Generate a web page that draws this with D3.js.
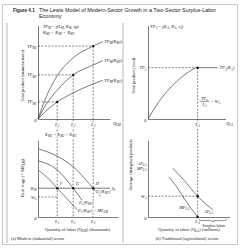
<!DOCTYPE html>
<html>
<head>
<meta charset="utf-8">
<script src="https://cdn.jsdelivr.net/npm/d3@7"></script>
<style>
  body { margin: 0; background: #fff; }
  svg { display: block; }
  text { font-family: "Liberation Serif", "DejaVu Serif", serif; fill: #222; }
</style>
</head>
<body>
<div id="chart"></div>
<script>
// ---- values ----
// (a) modern sector
const laborM = [24, 44, 69];                 // L1, L2, L3
const laborMLabels = ["L_{1}", "L_{2}", "L_{3}"];
const tpLevelsM = [19, 49, 81];              // TP_M1, TP_M2, TP_M3
const tpLevelLabels = ["TP_{M1}", "TP_{M2}", "TP_{M3}"];
const tpM1 = [[0, 0], [10, 9], [24, 19], [44, 29], [69, 39], [81, 43]];
const tpM2 = [[0, 0], [10, 16], [24, 32], [44, 49], [69, 60], [81, 65]];
const tpM3 = [[0, 0], [10, 24], [24, 48], [44, 68], [69, 81], [81, 86]];
const tpMLabels = ["TP_{M}(K_{M1})", "TP_{M}(K_{M2})", "TP_{M}(K_{M3})"];
const wageM = 36;                            // W_M
const wageA = 25;                            // W_A (as seen in modern panel)
const d1 = [[1, 58], [12, 49], [24, 36], [38, 21], [49, 9]];
const d2 = [[1, 70], [24, 59], [44, 36], [55, 21]];
const d3c = [[1, 85], [20, 78], [45, 62], [69, 36], [78, 26]];
const supplyEnd = 90;
const pointLabels = ["F", "G", "H"];

// (b) traditional sector
const laborA = 62;                           // L_A
const tpLevelA = 57;                         // TP_A
const tpA = [[0, 0], [15, 21], [34, 40], [52, 53], [62, 57], [87, 57]];
const wageAB = 26;                           // W_A
const apA = [[31, 61], [45, 46], [62, 26], [81, 9]];
const mpA = [[26, 50], [35, 39], [44, 25], [53, 12], [62, 0]];
const apLabelAt = 67, mpLabelAt = 61;
const surplusEnd = 98;

const width = 240, height = 248;
const svg = d3.select("#chart").append("svg")
  .attr("width", width).attr("height", height);

// frame
svg.append("rect").attr("x", 2.5).attr("y", 4.5).attr("width", 235).attr("height", 240)
  .attr("fill", "none").attr("stroke", "#c8c8c8").attr("stroke-width", 1);
svg.append("line").attr("x1", 7).attr("x2", 7).attr("y1", 23).attr("y2", 243)
  .attr("stroke", "#cfcfcf").attr("stroke-width", 1.5);
svg.append("line").attr("x1", 123).attr("x2", 123).attr("y1", 23).attr("y2", 243)
  .attr("stroke", "#cfcfcf").attr("stroke-width", 1.5);

// text with _{sub} parts
function rich(g, x, y, str, o = {}) {
  const fs = o.size || 4.6;
  const t = g.append("text").attr("x", x).attr("y", y)
    .attr("font-size", fs).attr("text-anchor", o.anchor || "start");
  if (o.italic) t.attr("font-style", "italic");
  if (o.weight) t.attr("font-weight", o.weight);
  if (o.family) t.style("font-family", o.family);
  if (o.rotate) t.attr("transform", `rotate(${o.rotate},${x},${y})`);
  if (o.halo) t.attr("stroke", "#fff").attr("stroke-width", 1.6).attr("paint-order", "stroke");
  let shifted = 0;
  str.split(/(_\{[^}]*\})/).forEach(p => {
    if (!p) return;
    const m = p.match(/^_\{(.*)\}$/);
    const s = t.append("tspan");
    if (m) {
      s.attr("font-size", fs * 0.7).attr("dy", fs * 0.3 - shifted).text(m[1]);
      shifted = fs * 0.3;
    } else {
      if (shifted) s.attr("dy", -shifted);
      shifted = 0;
      s.text(p);
    }
  });
  return t;
}

// title
const sans = '"Liberation Sans", Arial, sans-serif';
rich(svg, 13, 12, "Figure 4.1", { size: 4.6, weight: "bold", family: sans });
rich(svg, 39, 12, "The Lewis Model of Modern-Sector Growth in a Two-Sector Surplus-Labor", { size: 5.4, family: sans });
rich(svg, 39, 18, "Economy", { size: 5.4, family: sans });

const dash = "2,1.4";
const lw = 0.6;

// scales
const xM = d3.scaleLinear().domain([0, 90]).range([38, 110]);
const xMb = d3.scaleLinear().domain([0, 100]).range([38, 118]);
const yTM = d3.scaleLinear().domain([0, 104]).range([119, 25.4]);
const yWM = d3.scaleLinear().domain([0, 96]).range([217, 140.2]);
const xA = d3.scaleLinear().domain([0, 97]).range([148, 225.6]);
const xAb = d3.scaleLinear().domain([0, 102]).range([148, 229.6]);
const yTA = d3.scaleLinear().domain([0, 104]).range([119, 25.4]);
const yWA = d3.scaleLinear().domain([0, 96]).range([217, 140.2]);

function axes(g, x, y) {
  g.append("g").attr("transform", `translate(0,${y.range()[0]})`)
    .call(d3.axisBottom(x).tickValues([]).tickSizeOuter(0));
  g.append("g").attr("transform", `translate(${x.range()[0]},0)`)
    .call(d3.axisLeft(y).tickValues([]).tickSizeOuter(0));
  g.selectAll(".domain").attr("stroke", "#222").attr("stroke-width", lw);
}

const line = (x, y) => d3.line().x(d => x(d[0])).y(d => y(d[1])).curve(d3.curveMonotoneX);
const gl = svg.append("g");

// ---------- (a) top: total product ----------
axes(gl, xM, yTM);
laborM.forEach((L, i) => {
  gl.append("line").attr("x1", xM(0)).attr("x2", xM(L))
    .attr("y1", yTM(tpLevelsM[i])).attr("y2", yTM(tpLevelsM[i]))
    .attr("stroke", "#333").attr("stroke-width", lw).attr("stroke-dasharray", dash);
  gl.append("line").attr("x1", xM(L)).attr("x2", xM(L))
    .attr("y1", yTM(tpLevelsM[i])).attr("y2", yWM(0))
    .attr("stroke", "#333").attr("stroke-width", lw).attr("stroke-dasharray", dash);
});
[tpM1, tpM2, tpM3].forEach((s, i) => {
  gl.append("path").datum(s).attr("d", line(xM, yTM))
    .attr("fill", "none").attr("stroke", "#222").attr("stroke-width", lw);
  const e = s[s.length - 1];
  rich(gl, xM(e[0]) + 1.5, yTM(e[1]) + 1.5, tpMLabels[i], { italic: true, size: 4.4 });
  rich(gl, 36.5, yTM(tpLevelsM[i]) + 1.5, tpLevelLabels[i], { italic: true, anchor: "end", size: 4.4 });
});
gl.selectAll(".ptM").data(laborM).enter().append("circle")
  .attr("cx", d => xM(d)).attr("cy", (d, i) => yTM(tpLevelsM[i])).attr("r", 1.2).attr("fill", "#111");
laborM.forEach((L, i) => rich(gl, xM(L), 125.5, laborMLabels[i], { italic: true, anchor: "middle", halo: true }));
rich(gl, 35.5, 122, "0", { anchor: "middle" });
rich(gl, 113, 124.5, "Q_{LM}", { italic: true });
rich(gl, 43, 27.8, "TP_{M} = f(L_{M}, K\u0304_{M}, t\u0304_{M})", { italic: true, size: 4.4 });
rich(gl, 43, 33.6, "K_{M1} < K_{M2} < K_{M3}", { italic: true, size: 4.4 });
rich(gl, 24, 76, "Total product (manufactures)", { anchor: "middle", rotate: -90, size: 4.5 });

// ---------- (a) bottom: labor demand ----------
axes(gl, xMb, yWM);
gl.append("line").attr("x1", xMb(0)).attr("x2", xMb(supplyEnd))
  .attr("y1", yWM(wageM)).attr("y2", yWM(wageM))
  .attr("stroke", "#222").attr("stroke-width", lw);
gl.append("line").attr("x1", xMb(0)).attr("x2", xMb(laborM[0]))
  .attr("y1", yWM(wageA)).attr("y2", yWM(wageA))
  .attr("stroke", "#333").attr("stroke-width", lw).attr("stroke-dasharray", dash);
[d1, d2, d3c].forEach(s => {
  gl.append("path").datum(s).attr("d", line(xMb, yWM))
    .attr("fill", "none").attr("stroke", "#222").attr("stroke-width", lw);
});
gl.selectAll(".ptD").data(laborM).enter().append("circle")
  .attr("cx", d => xMb(d)).attr("cy", yWM(wageM)).attr("r", 1.2).attr("fill", "#111");
laborM.forEach((L, i) => {
  rich(gl, xMb(L) + 2.5, yWM(wageM) - 2.8, pointLabels[i], { italic: true, size: 4.4 });
  rich(gl, xMb(L), 222.5, laborMLabels[i], { italic: true, anchor: "middle" });
});
rich(gl, xMb(supplyEnd) + 1.5, yWM(wageM) + 1.5, "S_{L}", { italic: true, size: 4.4 });
rich(gl, 36.5, yWM(wageM) + 1.5, "W_{M}", { italic: true, anchor: "end", size: 4.4 });
rich(gl, 36.5, yWM(wageA) + 1.5, "W_{A}", { italic: true, anchor: "end", size: 4.4 });
rich(gl, 96, 193, "D_{3}(K_{M3})", { italic: true, size: 4.3, halo: true });
rich(gl, 79, 204, "D_{2}(K_{M2})", { italic: true, size: 4.3, halo: true });
rich(gl, 78, 212, "D_{1}(K_{M1}) = MP_{LM}", { italic: true, size: 4.3, halo: true });
rich(gl, 35.5, 219.5, "0", { anchor: "middle" });
rich(gl, 45, 136, "K_{M3} > K_{M2} > K_{M1}", { italic: true, size: 4.4, halo: true });
rich(gl, 24, 178, "Real wage (= MP_{LM})", { anchor: "middle", rotate: -90, size: 4.5 });
rich(gl, 45, 231, "Quantity of labor (Q_{LM}) (thousands)", { size: 4.5 });
rich(gl, 11, 239.5, "(a) Modern (industrial) sector", { size: 4.5 });

// ---------- (b) top: total product ----------
const gr = svg.append("g");
axes(gr, xA, yTA);
gr.append("line").attr("x1", xA(0)).attr("x2", xA(laborA))
  .attr("y1", yTA(tpLevelA)).attr("y2", yTA(tpLevelA))
  .attr("stroke", "#333").attr("stroke-width", lw).attr("stroke-dasharray", dash);
gr.append("line").attr("x1", xA(laborA)).attr("x2", xA(laborA))
  .attr("y1", yTA(tpLevelA)).attr("y2", yWA(0))
  .attr("stroke", "#333").attr("stroke-width", lw).attr("stroke-dasharray", dash);
gr.append("path").datum(tpA).attr("d", line(xA, yTA))
  .attr("fill", "none").attr("stroke", "#222").attr("stroke-width", lw);
gr.append("circle").attr("cx", xA(laborA)).attr("cy", yTA(tpLevelA)).attr("r", 1.2).attr("fill", "#111");
rich(gr, xA(tpA[tpA.length - 1][0]) + 2, yTA(tpLevelA) + 1.5, "TP_{A}(K_{A})", { italic: true, size: 4.4 });
rich(gr, 146.5, yTA(tpLevelA) + 1.5, "TP_{A}", { italic: true, anchor: "end", size: 4.4 });
rich(gr, 150, 27.8, "TP_{A} = f(L_{A}, K\u0304_{A}, t\u0304_{A})", { italic: true, size: 4.4 });
rich(gr, xA(laborA), 125.5, "L_{A}", { italic: true, anchor: "middle", halo: true });
rich(gr, 145.5, 122, "0", { anchor: "middle" });
rich(gr, 226, 124.5, "Q_{LA}", { italic: true });
rich(gr, 204.5, 99.5, "TP_{A}", { italic: true, anchor: "middle", size: 4.2, halo: true });
gr.append("line").attr("x1", 199.5).attr("x2", 209.5).attr("y1", 101.3).attr("y2", 101.3)
  .attr("stroke", "#222").attr("stroke-width", 0.5);
rich(gr, 204.5, 106, "L_{A}", { italic: true, anchor: "middle", size: 4.2, halo: true });
rich(gr, 211, 103, "= W_{A}", { italic: true, size: 4.2 });
rich(gr, 135, 76, "Total product (food)", { anchor: "middle", rotate: -90, size: 4.5 });

// ---------- (b) bottom: average / marginal product ----------
axes(gr, xAb, yWA);
gr.append("line").attr("x1", xAb(0)).attr("x2", xAb(laborA))
  .attr("y1", yWA(wageAB)).attr("y2", yWA(wageAB))
  .attr("stroke", "#333").attr("stroke-width", lw).attr("stroke-dasharray", dash);
[apA, mpA].forEach(s => {
  gr.append("path").datum(s).attr("d", line(xAb, yWA))
    .attr("fill", "none").attr("stroke", "#222").attr("stroke-width", lw);
});
gr.selectAll(".ptA").data([wageAB, 0]).enter().append("circle")
  .attr("cx", xAb(laborA)).attr("cy", d => yWA(d)).attr("r", 1.2).attr("fill", "#111");
rich(gr, 146.5, yWA(apLabelAt) + 1.5, "AP_{LA}", { italic: true, anchor: "end", size: 4.3 });
rich(gr, 146.5, yWA(mpLabelAt) + 1.5, "MP_{LA}", { italic: true, anchor: "end", size: 4.3 });
rich(gr, 146.5, yWA(wageAB) + 1.5, "W_{A}", { italic: true, anchor: "end", size: 4.3 });
rich(gr, 189, 209, "MP_{LA}", { italic: true, anchor: "end", size: 4.3 });
rich(gr, 204, 213, "AP_{LA}", { italic: true, size: 4.3 });
rich(gr, 145.5, 219.5, "0", { anchor: "middle" });
rich(gr, xAb(laborA), 222.5, "L_{A}", { italic: true, anchor: "middle" });
const bx0 = xAb(laborA) + 1.5, bx1 = xAb(surplusEnd), bm = (bx0 + bx1) / 2, by = 219;
gr.append("path")
  .attr("d", `M${bx0},${by} Q${bx0},${by + 1.6} ${bx0 + 2},${by + 1.6} L${bm - 2},${by + 1.6} Q${bm},${by + 1.6} ${bm},${by + 3} Q${bm},${by + 1.6} ${bm + 2},${by + 1.6} L${bx1 - 2},${by + 1.6} Q${bx1},${by + 1.6} ${bx1},${by}`)
  .attr("fill", "none").attr("stroke", "#222").attr("stroke-width", 0.5);
rich(gr, bm + 1, 226.5, "Surplus labor", { anchor: "middle", size: 4.3 });
rich(gr, 132, 165, "Average (marginal) products", { anchor: "middle", rotate: -90, size: 4.5 });
rich(gr, 189, 231, "Quantity of labor (Q_{LA}) (millions)", { anchor: "middle", size: 4.5 });
rich(gr, 187, 239.5, "(b) Traditional (agricultural) sector", { anchor: "middle", size: 4.5 });
</script>
</body>
</html>
